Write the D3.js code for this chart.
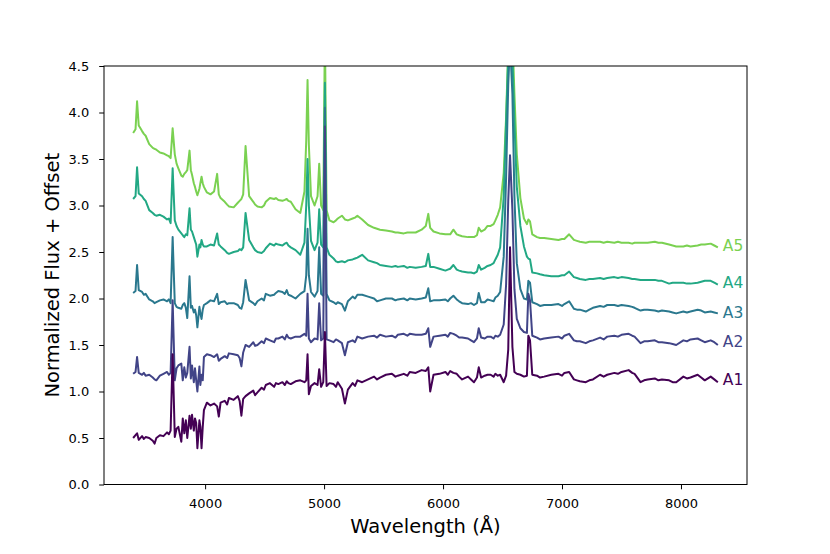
<!DOCTYPE html>
<html>
<head>
<meta charset="utf-8">
<script src="https://cdn.jsdelivr.net/npm/d3@7"></script>
<style>
    body { margin: 0; background: #fff; }
    svg { font-family: "DejaVu Sans", sans-serif; }
</style>
</head>
<body>
<div id="chart"></div>
<script>
// wavelength grid (Angstrom), shared by all five apertures
const wavelength = [
    3395, 3415, 3428, 3442, 3470, 3485, 3500, 3530, 3560, 3575,
    3590, 3620, 3650, 3680, 3695, 3710, 3727, 3745, 3760, 3775,
    3800, 3812, 3825, 3838, 3850, 3869, 3880, 3890, 3905, 3915,
    3925, 3935, 3952, 3960, 3970, 3980, 3990, 4015, 4045, 4075,
    4101, 4115, 4130, 4165, 4185, 4200, 4240, 4275, 4290, 4305,
    4320, 4340, 4370, 4405, 4420, 4440, 4475, 4495, 4510, 4545,
    4580, 4595, 4615, 4650, 4670, 4686, 4700, 4720, 4760, 4800,
    4835, 4850, 4861, 4872, 4890, 4920, 4945, 4959, 4975, 4993,
    5007, 5021, 5045, 5080, 5100, 5115, 5150, 5175, 5200, 5240,
    5260, 5280, 5320, 5370, 5420, 5445, 5470, 5520, 5570, 5600,
    5620, 5670, 5700, 5720, 5770, 5820, 5855, 5876, 5892, 5920,
    5970, 6020, 6040, 6060, 6087, 6115, 6135, 6160, 6210, 6235,
    6260, 6285, 6300, 6320, 6350, 6374, 6400, 6425, 6440, 6460,
    6480, 6510, 6530, 6548, 6563, 6583, 6600, 6620, 6650, 6680,
    6705, 6717, 6731, 6750, 6790, 6815, 6850, 6910, 6970, 7000,
    7020, 7060, 7100, 7125, 7150, 7200, 7230, 7260, 7320, 7350,
    7380, 7440, 7470, 7500, 7560, 7590, 7610, 7660, 7690, 7720,
    7780, 7810, 7840, 7900, 7930, 7960, 8020, 8050, 8080, 8140,
    8170, 8200, 8250, 8280, 8310
];

const fluxA1 = [
    0.50, 0.53, 0.55, 0.48, 0.52, 0.49, 0.51, 0.50, 0.47, 0.44,
    0.50, 0.53, 0.52, 0.56, 0.54, 0.58, 1.40, 0.51, 0.60, 0.62,
    0.46, 0.71, 0.55, 0.69, 0.50, 0.74, 0.60, 0.75, 0.58, 0.71,
    0.66, 0.39, 0.69, 0.62, 0.39, 0.62, 0.80, 0.88, 0.85, 0.87,
    0.84, 0.73, 0.88, 0.90, 0.86, 0.93, 0.91, 0.95, 0.90, 0.74,
    0.92, 0.95, 0.98, 1.01, 0.96, 0.99, 1.04, 1.02, 1.07, 1.09,
    1.05, 1.09, 1.08, 1.10, 1.07, 1.11, 1.09, 1.08, 1.11, 1.12,
    1.10, 1.12, 1.40, 0.97, 1.06, 1.09, 1.07, 1.24, 1.05, 1.10,
    1.64, 1.06, 1.09, 1.08, 1.05, 1.10, 1.03, 0.87, 1.02, 1.09,
    1.06, 1.12, 1.10, 1.13, 1.16, 1.13, 1.15, 1.18, 1.19, 1.16,
    1.17, 1.19, 1.17, 1.21, 1.20, 1.23, 1.22, 1.26, 1.00, 1.18,
    1.19, 1.21, 1.18, 1.22, 1.20, 1.19, 1.16, 1.13, 1.16, 1.13,
    1.10, 1.15, 1.26, 1.15, 1.17, 1.18, 1.18, 1.16, 1.19, 1.17,
    1.18, 1.10, 1.17, 1.45, 2.55, 1.48, 1.21, 1.19, 1.18, 1.16,
    1.17, 1.60, 1.55, 1.18, 1.17, 1.15, 1.16, 1.18, 1.19, 1.17,
    1.20, 1.21, 1.13, 1.12, 1.11, 1.10, 1.12, 1.13, 1.18, 1.16,
    1.18, 1.20, 1.19, 1.21, 1.23, 1.20, 1.19, 1.10, 1.12, 1.13,
    1.14, 1.12, 1.13, 1.12, 1.10, 1.10, 1.16, 1.14, 1.15, 1.18,
    1.15, 1.12, 1.16, 1.13, 1.10
];

const fluxA2 = [
    1.19, 1.21, 1.37, 1.20, 1.18, 1.20, 1.17, 1.18, 1.15, 1.13,
    1.12, 1.17, 1.19, 1.21, 1.18, 1.20, 1.98, 1.12, 1.25, 1.28,
    1.30, 1.12, 1.26, 1.15, 1.20, 1.48, 1.14, 1.28, 1.10, 1.25,
    1.12, 1.00, 1.27, 1.07, 1.18, 1.12, 1.37, 1.40, 1.39, 1.37,
    1.40, 1.33, 1.35, 1.38, 1.36, 1.41, 1.40, 1.39, 1.36, 1.27,
    1.42, 1.50, 1.48, 1.53, 1.49, 1.50, 1.54, 1.52, 1.57, 1.55,
    1.53, 1.57, 1.57, 1.59, 1.56, 1.61, 1.58, 1.57, 1.59, 1.59,
    1.62, 1.60, 2.05, 1.57, 1.53, 1.57, 1.56, 1.95, 1.55, 1.57,
    3.85, 1.56, 1.55, 1.53, 1.56, 1.55, 1.52, 1.39, 1.53, 1.55,
    1.53, 1.59, 1.57, 1.59, 1.60, 1.58, 1.61, 1.59, 1.60, 1.58,
    1.61, 1.62, 1.60, 1.62, 1.61, 1.61, 1.62, 1.68, 1.48, 1.59,
    1.60, 1.61, 1.59, 1.63, 1.62, 1.60, 1.58, 1.58, 1.57, 1.55,
    1.53, 1.57, 1.68, 1.58, 1.57, 1.59, 1.59, 1.57, 1.60, 1.59,
    1.61, 1.72, 2.15, 3.05, 3.54, 2.95, 2.10, 1.78, 1.68, 1.64,
    1.63, 2.05, 1.98, 1.60, 1.58, 1.56, 1.57, 1.58, 1.59, 1.57,
    1.60, 1.62, 1.55, 1.54, 1.54, 1.52, 1.54, 1.55, 1.58, 1.56,
    1.59, 1.60, 1.59, 1.61, 1.62, 1.60, 1.59, 1.52, 1.54, 1.54,
    1.55, 1.53, 1.53, 1.52, 1.51, 1.50, 1.55, 1.54, 1.56, 1.57,
    1.55, 1.53, 1.55, 1.53, 1.50
];

const fluxA3 = [
    2.06, 2.08, 2.36, 2.09, 2.07, 2.04, 2.05, 1.99, 1.97, 1.95,
    1.96, 1.98, 1.99, 1.97, 1.99, 1.95, 2.66, 1.95, 1.91, 1.90,
    1.89, 1.93, 1.95, 1.90, 1.79, 2.24, 1.90, 1.92, 1.85, 1.88,
    1.82, 1.69, 1.91, 1.84, 1.78, 1.88, 1.93, 1.95, 1.98, 1.97,
    2.05, 1.94, 1.96, 1.97, 1.94, 1.95, 1.95, 1.93, 1.90, 1.89,
    1.96, 2.20, 1.98, 1.95, 1.93, 1.97, 2.00, 1.98, 2.05, 2.03,
    2.04, 2.06, 2.08, 2.07, 2.05, 2.09, 2.04, 2.03, 2.00, 2.05,
    2.08, 2.25, 2.75, 2.25, 2.07, 2.02, 2.08, 2.55, 2.05, 2.03,
    4.05, 2.05, 1.98, 1.96, 1.94, 1.96, 1.94, 1.87, 1.97, 2.02,
    2.00, 2.04, 2.04, 2.02, 2.00, 1.97, 1.98, 2.00, 2.00, 1.98,
    1.99, 2.00, 1.98, 2.00, 1.99, 2.00, 2.01, 2.11, 1.97, 1.98,
    1.98, 1.99, 1.97, 2.00, 2.03, 1.99, 1.97, 1.95, 1.94, 1.95,
    1.93, 1.95, 2.06, 1.96, 1.96, 1.99, 1.98, 1.97, 2.01, 2.03,
    2.07, 2.45, 3.30, 4.30, 4.75, 4.20, 3.10, 2.38, 2.10, 2.00,
    1.99, 2.19, 2.17, 1.96, 1.94, 1.92, 1.93, 1.93, 1.94, 1.92,
    1.94, 1.97, 1.89, 1.88, 1.88, 1.86, 1.88, 1.90, 1.92, 1.91,
    1.93, 1.93, 1.92, 1.93, 1.92, 1.91, 1.90, 1.87, 1.88, 1.88,
    1.87, 1.86, 1.87, 1.86, 1.85, 1.84, 1.86, 1.85, 1.86, 1.88,
    1.87, 1.85, 1.86, 1.85, 1.84
];

const fluxA4 = [
    3.07, 3.10, 3.41, 3.13, 3.10, 3.07, 3.05, 2.95, 2.92, 2.90,
    2.89, 2.90, 2.88, 2.85, 2.86, 2.81, 3.40, 2.84, 2.78, 2.74,
    2.70, 2.68, 2.66, 2.69, 2.68, 2.97, 2.74, 2.72, 2.66, 2.62,
    2.58, 2.45, 2.58, 2.55, 2.63, 2.58, 2.56, 2.56, 2.58, 2.57,
    2.70, 2.58, 2.56, 2.52, 2.49, 2.48, 2.50, 2.51, 2.53, 2.52,
    2.55, 2.92, 2.63, 2.55, 2.52, 2.50, 2.49, 2.51, 2.54, 2.59,
    2.57, 2.59, 2.58, 2.57, 2.59, 2.60, 2.57, 2.55, 2.52, 2.47,
    2.60, 3.00, 3.50, 3.00, 2.62, 2.52, 2.60, 2.96, 2.58, 2.55,
    4.32, 2.55, 2.47, 2.43, 2.40, 2.39, 2.40, 2.39, 2.41, 2.42,
    2.43, 2.44, 2.47, 2.41, 2.39, 2.38, 2.36, 2.35, 2.34, 2.35,
    2.34, 2.35, 2.33, 2.34, 2.33, 2.34, 2.35, 2.48, 2.34, 2.34,
    2.32, 2.30, 2.31, 2.32, 2.36, 2.31, 2.30, 2.29, 2.28, 2.28,
    2.27, 2.29, 2.36, 2.31, 2.33, 2.35, 2.36, 2.38, 2.42, 2.47,
    2.55, 3.10, 3.90, 4.60, 5.00, 4.60, 3.90, 3.20, 2.78, 2.56,
    2.45, 2.43, 2.42, 2.28, 2.27, 2.26, 2.25, 2.24, 2.24, 2.25,
    2.25, 2.29, 2.23, 2.22, 2.21, 2.20, 2.21, 2.21, 2.22, 2.21,
    2.22, 2.23, 2.22, 2.23, 2.22, 2.21, 2.21, 2.20, 2.20, 2.20,
    2.20, 2.19, 2.19, 2.16, 2.17, 2.17, 2.17, 2.16, 2.16, 2.17,
    2.18, 2.19, 2.19, 2.17, 2.15
];

const fluxA5 = [
    3.78, 3.82, 4.12, 3.86, 3.80, 3.77, 3.75, 3.66, 3.62, 3.61,
    3.60, 3.57, 3.56, 3.54, 3.53, 3.51, 3.83, 3.55, 3.45, 3.40,
    3.32, 3.31, 3.34, 3.36, 3.38, 3.59, 3.38, 3.33, 3.24, 3.20,
    3.15, 3.11, 3.18, 3.24, 3.31, 3.24, 3.20, 3.14, 3.12, 3.15,
    3.34, 3.12, 3.08, 3.04, 3.01, 2.99, 2.98, 3.03, 3.05, 3.07,
    3.12, 3.64, 3.10, 3.04, 3.01, 2.99, 2.98, 3.00, 3.04, 3.08,
    3.07, 3.08, 3.06, 3.05, 3.06, 3.07, 3.05, 3.04, 2.96, 2.92,
    3.15, 3.70, 4.35, 3.65, 3.10, 3.00, 3.10, 3.45, 3.00, 2.95,
    4.90, 2.95, 2.84, 2.82, 2.84, 2.86, 2.89, 2.85, 2.84, 2.86,
    2.87, 2.89, 2.85, 2.79, 2.76, 2.75, 2.74, 2.73, 2.72, 2.71,
    2.71, 2.70, 2.71, 2.71, 2.71, 2.74, 2.78, 2.91, 2.76, 2.72,
    2.70, 2.69, 2.69, 2.69, 2.74, 2.69, 2.68, 2.67, 2.66, 2.66,
    2.66, 2.68, 2.76, 2.72, 2.74, 2.78, 2.78, 2.80, 2.84, 2.90,
    2.98, 3.35, 3.95, 4.70, 5.40, 4.85, 4.20, 3.55, 3.08, 2.86,
    2.80, 2.85, 2.83, 2.69, 2.66, 2.65, 2.65, 2.64, 2.63, 2.64,
    2.64, 2.69, 2.63, 2.62, 2.61, 2.60, 2.61, 2.61, 2.61, 2.60,
    2.61, 2.60, 2.61, 2.60, 2.60, 2.59, 2.60, 2.60, 2.60, 2.60,
    2.61, 2.60, 2.60, 2.58, 2.57, 2.56, 2.56, 2.57, 2.56, 2.57,
    2.58, 2.58, 2.59, 2.57, 2.55
];

const seriesNames = ['A1', 'A2', 'A3', 'A4', 'A5'];
const seriesFlux = [fluxA1, fluxA2, fluxA3, fluxA4, fluxA5];
const xTicks = [4000, 5000, 6000, 7000, 8000];
const yTicks = [0, 0.5, 1.0, 1.5, 2.0, 2.5, 3.0, 3.5, 4.0, 4.5];

const width = 830, height = 554;
const margin = { top: 66, right: 83, bottom: 69.5, left: 104 };
const innerW = width - margin.left - margin.right;
const innerH = height - margin.top - margin.bottom;

const svg = d3.select('#chart')
    .append('svg')
    .attr('width', width)
    .attr('height', height);

const x = d3.scaleLinear().domain([3150, 8555]).range([0, innerW]);
const y = d3.scaleLinear().domain([0, 4.5]).range([innerH, 0]);

const g = svg.append('g').attr('transform', `translate(${margin.left},${margin.top})`);

g.append('clipPath').attr('id', 'plot-clip')
    .append('rect')
    .attr('width', innerW)
    .attr('height', innerH);

// viridis, sampled at i/5
const color = i => d3.interpolateViridis(i / seriesNames.length);

const line = d3.line()
    .x(d => x(d[0]))
    .y(d => y(d[1]));

const lines = g.append('g').attr('clip-path', 'url(#plot-clip)');

// A5 first so the inner apertures sit on top
for (let i = seriesNames.length - 1; i >= 0; i--) {
    const pts = wavelength.map((w, j) => [w, seriesFlux[i][j]]);
    lines.append('path')
        .datum(pts)
        .attr('fill', 'none')
        .attr('stroke', color(i))
        .attr('stroke-width', 2)
        .attr('stroke-linejoin', 'round')
        .attr('d', line);
}

// labels at the red end of each spectrum
const lastW = wavelength[wavelength.length - 1];
seriesNames.forEach((name, i) => {
    const tail = seriesFlux[i].slice(-5);
    g.append('text')
        .attr('x', x(lastW) + 5)
        .attr('y', y(d3.mean(tail)))
        .attr('dy', '0.35em')
        .attr('fill', color(i))
        .style('font-size', '15.5px')
        .text(name);
});

// axes
const xAxis = g.append('g')
    .attr('transform', `translate(0,${innerH})`)
    .call(d3.axisBottom(x).tickValues(xTicks).tickSize(4.8).tickFormat(d3.format('d')));
xAxis.select('.domain').remove();
xAxis.selectAll('text').attr('y', 23).attr('dy', 0);

const yAxis = g.append('g')
    .call(d3.axisLeft(y).tickValues(yTicks).tickSize(4.8).tickPadding(10).tickFormat(d3.format('.1f')));
yAxis.select('.domain').remove();

g.selectAll('.tick line').attr('stroke', '#000').attr('stroke-width', 1);
g.selectAll('.tick text').attr('fill', '#000').style('font-size', '13px')
    .style('font-family', '"DejaVu Sans", sans-serif');

g.append('rect')
    .attr('width', innerW)
    .attr('height', innerH)
    .attr('fill', 'none')
    .attr('stroke', '#000')
    .attr('stroke-width', 1);

svg.append('text')
    .attr('x', margin.left + innerW / 2)
    .attr('y', 533)
    .attr('text-anchor', 'middle')
    .style('font-size', '19.5px')
    .text('Wavelength (Å)');

svg.append('text')
    .attr('transform', `translate(59,${margin.top + innerH / 2}) rotate(-90)`)
    .attr('text-anchor', 'middle')
    .style('font-size', '19.5px')
    .text('Normalized Flux + Offset');
</script>
</body>
</html>
